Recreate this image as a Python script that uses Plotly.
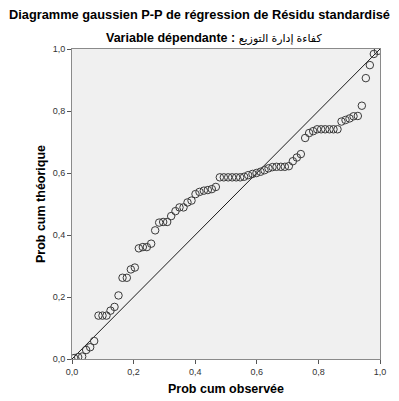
import plotly.graph_objects as go

# Observed cumulative probability (x) and expected cumulative probability (y)
observed = [0.007, 0.020, 0.033, 0.046, 0.059, 0.072, 0.086, 0.099, 0.112, 0.125,
            0.138, 0.151, 0.164, 0.178, 0.191, 0.204, 0.217, 0.230, 0.243, 0.257,
            0.270, 0.283, 0.296, 0.309, 0.322, 0.336, 0.349, 0.362, 0.375, 0.388,
            0.401, 0.414, 0.428, 0.441, 0.454, 0.467, 0.480, 0.493, 0.507, 0.520,
            0.533, 0.546, 0.559, 0.572, 0.586, 0.599, 0.612, 0.625, 0.638, 0.651,
            0.664, 0.678, 0.691, 0.704, 0.717, 0.730, 0.743, 0.757, 0.770, 0.783,
            0.796, 0.809, 0.822, 0.836, 0.849, 0.862, 0.875, 0.888, 0.901, 0.914,
            0.928, 0.941, 0.954, 0.967, 0.980, 0.993]
expected = [0.003, 0.006, 0.008, 0.029, 0.038, 0.058, 0.140, 0.140, 0.140, 0.156,
            0.168, 0.205, 0.262, 0.262, 0.289, 0.295, 0.357, 0.361, 0.361, 0.372,
            0.415, 0.440, 0.442, 0.442, 0.461, 0.477, 0.489, 0.489, 0.505, 0.511,
            0.532, 0.539, 0.543, 0.545, 0.548, 0.555, 0.586, 0.586, 0.586, 0.586,
            0.586, 0.586, 0.588, 0.593, 0.597, 0.600, 0.604, 0.609, 0.615, 0.619,
            0.620, 0.620, 0.620, 0.622, 0.638, 0.650, 0.661, 0.713, 0.729, 0.735,
            0.741, 0.741, 0.741, 0.741, 0.741, 0.741, 0.766, 0.771, 0.776, 0.783,
            0.784, 0.817, 0.906, 0.948, 0.984, 0.994]
ref_line = [0.0, 1.0]
tick_vals = [0.0, 0.2, 0.4, 0.6, 0.8, 1.0]
tick_text = ["0,0", "0,2", "0,4", "0,6", "0,8", "1,0"]

title_text = "Diagramme gaussien P-P de régression de Résidu standardisé"
subtitle_label = "Variable dépendante :"
subtitle_var = "كفاءة إدارة التوزيع"
x_title = "Prob cum observée"
y_title = "Prob cum théorique"

FONT = "Liberation Sans, Arial, DejaVu Sans, sans-serif"

fig = go.Figure()
fig.add_trace(go.Scatter(x=ref_line, y=ref_line, mode="lines",
                         line=dict(color="#1a1a1a", width=1), hoverinfo="skip",
                         showlegend=False))
fig.add_trace(go.Scatter(x=observed, y=expected, mode="markers",
                         marker=dict(symbol="circle-open", size=7.5,
                                     color="#3a3a3a", line=dict(width=1)),
                         showlegend=False))

axis_common = dict(range=[0, 1], tickvals=tick_vals, ticktext=tick_text,
                   showgrid=False, zeroline=False, showline=True, mirror=True,
                   linecolor="#8a8a8a", linewidth=1, ticks="outside", ticklen=4,
                   tickcolor="#555555", automargin=False,
                   tickfont=dict(size=9, color="#333333", family=FONT))

fig.update_layout(
    width=399, height=401,
    margin=dict(l=72, r=19, t=49, b=42),
    paper_bgcolor="white", plot_bgcolor="#f0f0f0",
    font=dict(family=FONT, color="#000000"),
    title=dict(text="<b>" + title_text + "</b>", x=0.5, xanchor="center",
               xref="container", yref="container",
               y=1 - 15 / 401, yanchor="middle", font=dict(size=12.8, family=FONT)),
    xaxis=dict(**axis_common,
               title=dict(text="<b>" + x_title + "</b>", font=dict(size=12.5, family=FONT), standoff=8)),
    yaxis=dict(**axis_common,
               title=dict(text="<b>" + y_title + "</b>", font=dict(size=12.5, family=FONT), standoff=4)),
    annotations=[dict(text="<b>" + subtitle_label + "</b> " + "<span style='font-size:11px'>" + subtitle_var + "</span>",
                      xref="paper", yref="paper", x=0.46, y=1.0, yshift=11,
                      xanchor="center", yanchor="middle", showarrow=False,
                      font=dict(size=12.5, family=FONT))],
)

fig.write_html("out.html", config={"displayModeBar": False},
               post_script="document.body.style.margin='0';")
